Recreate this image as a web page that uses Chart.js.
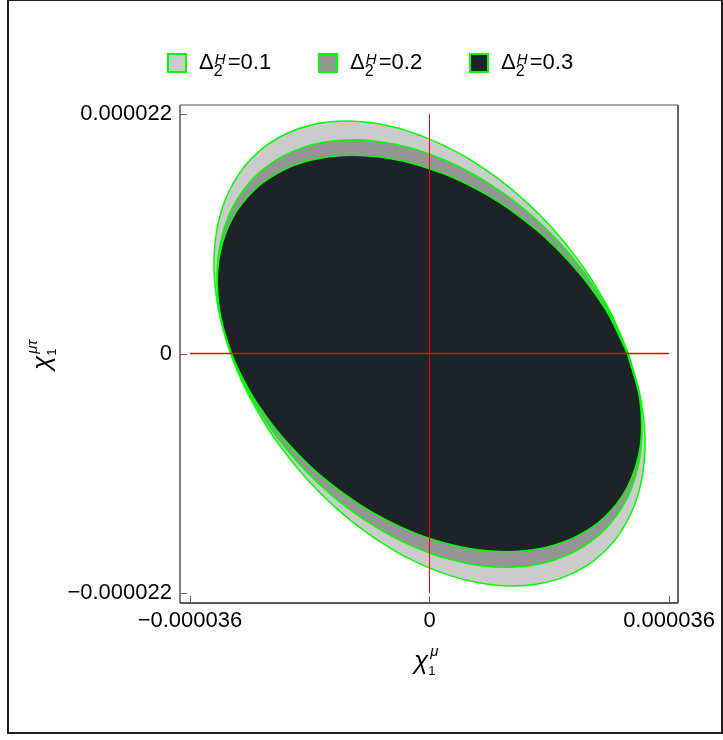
<!DOCTYPE html>
<html>
<head>
<meta charset="utf-8">
<script src="https://cdn.jsdelivr.net/npm/chart.js@4/dist/chart.umd.min.js"></script>
<style>
  html, body { margin: 0; padding: 0; background: #fff; }
  #wrap { position: relative; width: 723px; height: 740px; overflow: hidden;
          font-family: "Liberation Sans", Arial, sans-serif; color: #000; }
  #border { position: absolute; left: 7px; top: -1px; width: 712px; height: 731px;
            border: 2px solid #231f20; }
  canvas { position: absolute; left: 0; top: 0; }
  .leg { position: absolute; top: 49px; height: 26px; font-size: 22px; line-height: 26px; white-space: nowrap; }
  .leg .box { position: absolute; left: 0; top: 4px; width: 16px; height: 16px; border: 2px solid #00ff00; }
  .leg .txt { position: absolute; left: 32px; top: 0; }
  .ss { display: inline-block; position: relative; width: 14px; height: 1px; }
  .leg .sp { position: absolute; left: 1px; top: -17px; font-size: 15px; line-height: 15px; font-style: italic; }
  .leg .sb { position: absolute; left: 0; top: -5px; font-size: 16px; line-height: 16px; }
  .ttl { position: absolute; font-size: 26px; line-height: 30px; white-space: nowrap; }
  .ttl .chi { font-style: italic; }
  .ttl .sp { position: absolute; left: 2px; top: -25px; font-size: 15px; line-height: 15px; font-style: italic; }
  .ttl .sb { position: absolute; left: 0; top: -4px; font-size: 13px; line-height: 13px; }
  #xt { left: 414px; top: 645px; }
  #yt { left: 21px; top: 335px; width: 40px; height: 30px; transform: rotate(-90deg); }
</style>
</head>
<body>
<div id="wrap">
  <canvas id="c" width="723" height="740"></canvas>
  <div id="legend"></div>
  <div class="ttl" id="xt"><span class="chi">χ</span><span class="ss"><span class="sp">μ</span><span class="sb">1</span></span></div>
  <div class="ttl" id="yt"><span class="chi">χ</span><span class="ss"><span class="sp">μτ</span><span class="sb">1</span></span></div>
  <div id="border"></div>
</div>
<script>
// all coordinates below are in units of 1e-6
const U = 1e-6;
const xRange = [-37.5, 37.35];
const yRange = [-22.92, 22.83];
const xTicks = [-36, 0, 36];
const yTicks = [-22, 0, 22];
const xTickLabels = ['\u22120.000036', '0', '0.000036'];
const yTickLabels = ['\u22120.000022', '0', '0.000022'];

const deltaValues = ['0.1', '0.2', '0.3'];
const fillColors = ['#cbcbcb', '#959595', '#1d2327'];
const edgeColor = '#00ff00';

// boundary of each region (closed loops, going round anticlockwise)
const e1X = [29.90, 27.36, 24.58, 21.80, 19.13, 16.57, 14.14, 11.79, 9.49, 7.20, 4.89, 2.50, 0,
  -2.67, -5.58, -8.78, -12.33, -16.25, -20.47, -24.76, -28.61, -31.34, -32.40, -31.76,
  -29.90, -27.36, -24.58, -21.80, -19.13, -16.57, -14.14, -11.79, -9.49, -7.20, -4.89, -2.50, 0,
  2.67, 5.58, 8.78, 12.33, 16.25, 20.47, 24.76, 28.61, 31.34, 32.40, 31.76, 29.90];
const e1Y = [0, 3.60, 6.59, 9.03, 11.05, 12.72, 14.14, 15.36, 16.43, 17.38, 18.24, 19.01, 19.70,
  20.31, 20.83, 21.19, 21.35, 21.17, 20.47, 19.00, 16.52, 12.98, 8.68, 4.18,
  0, -3.60, -6.59, -9.03, -11.05, -12.72, -14.14, -15.36, -16.43, -17.38, -18.24, -19.01, -19.70,
  -20.31, -20.83, -21.19, -21.35, -21.17, -20.47, -19.00, -16.52, -12.98, -8.68, -4.18, 0];

const e2X = [29.80, 27.21, 24.30, 21.41, 18.64, 16.03, 13.58, 11.25, 9.00, 6.79, 4.59, 2.34, 0,
  -2.48, -5.15, -8.08, -11.34, -14.96, -18.94, -23.13, -27.13, -30.27, -31.83, -31.56,
  -29.80, -27.21, -24.30, -21.41, -18.64, -16.03, -13.58, -11.25, -9.00, -6.79, -4.59, -2.34, 0,
  2.48, 5.15, 8.08, 11.34, 14.96, 18.94, 23.13, 27.13, 30.27, 31.83, 31.56, 29.80];
const e2Y = [0, 3.58, 6.51, 8.87, 10.76, 12.30, 13.58, 14.66, 15.59, 16.40, 17.12, 17.76, 18.32,
  18.82, 19.22, 19.51, 19.63, 19.49, 18.94, 17.75, 15.67, 12.54, 8.53, 4.15,
  0, -3.58, -6.51, -8.87, -10.76, -12.30, -13.58, -14.66, -15.59, -16.40, -17.12, -17.76, -18.32,
  -18.82, -19.22, -19.51, -19.63, -19.49, -18.94, -17.75, -15.67, -12.54, -8.53, -4.15, 0];

const e3X = [29.75, 26.94, 23.82, 20.77, 17.93, 15.30, 12.88, 10.61, 8.45, 6.35, 4.27, 2.17, 0,
  -2.29, -4.76, -7.48, -10.51, -13.93, -17.77, -21.95, -26.17, -29.71, -31.69, -31.60,
  -29.75, -26.94, -23.82, -20.77, -17.93, -15.30, -12.88, -10.61, -8.45, -6.35, -4.27, -2.17, 0,
  2.29, 4.76, 7.48, 10.51, 13.93, 17.77, 21.95, 26.17, 29.71, 31.69, 31.60, 29.75];
const e3Y = [0, 3.55, 6.38, 8.60, 10.35, 11.74, 12.88, 13.83, 14.64, 15.33, 15.95, 16.50, 16.98,
  17.41, 17.77, 18.05, 18.20, 18.15, 17.77, 16.85, 15.11, 12.31, 8.49, 4.16,
  0, -3.55, -6.38, -8.60, -10.35, -11.74, -12.88, -13.83, -14.64, -15.33, -15.95, -16.50, -16.98,
  -17.41, -17.77, -18.05, -18.20, -18.15, -17.77, -16.85, -15.11, -12.31, -8.49, -4.16, 0];

// red reference lines
const hLineX = [-36, 36], hLineY = [0, 0];
const vLineX = [0, 0], vLineY = [-22, 22];

function pts(xs, ys) {
  return xs.map((x, i) => ({ x: x * U, y: ys[i] * U }));
}

const regions = [[e1X, e1Y], [e2X, e2Y], [e3X, e3Y]];

// html legend, so the sub/superscripts stack like the original
const legendLeft = [167, 318, 469];
document.getElementById('legend').innerHTML = deltaValues.map((v, i) =>
  `<div class="leg" style="left:${legendLeft[i]}px"><span class="box" style="background:${fillColors[i]}"></span>` +
  `<span class="txt">Δ<span class="ss"><span class="sp">H</span><span class="sb">2</span></span>=${v}</span></div>`
).join('');

const framePlugin = {
  id: 'frame',
  afterDraw(chart) {
    const { ctx, chartArea: a, scales: { x, y } } = chart;
    ctx.save();
    ctx.lineWidth = 1.5;
    const seg = (x1, y1, x2, y2, col) => {
      ctx.strokeStyle = col;
      ctx.beginPath(); ctx.moveTo(x1, y1); ctx.lineTo(x2, y2); ctx.stroke();
    };
    seg(a.left, a.top, a.right, a.top, '#8a8a8a');
    seg(a.left, a.top, a.left, a.bottom, '#555');
    seg(a.left, a.bottom, a.right, a.bottom, '#222');
    seg(a.right, a.top, a.right, a.bottom, '#333');
    ctx.lineWidth = 1;
    xTicks.forEach(v => {
      const px = Math.round(x.getPixelForValue(v * U)) + 0.5;
      seg(px, a.bottom, px, a.bottom - 7, '#666');
    });
    yTicks.forEach(v => {
      const py = Math.round(y.getPixelForValue(v * U)) + 0.5;
      seg(a.left, py, a.left + 7, py, '#666');
    });
    ctx.restore();
  }
};

const tickFont = { family: 'Liberation Sans', size: 22 };

new Chart(document.getElementById('c'), {
  type: 'scatter',
  data: {
    datasets: [
      { label: 'h', data: pts(hLineX, hLineY), showLine: true, borderColor: '#ff0000', borderWidth: 1.5,
        pointRadius: 0, fill: false, order: 0 },
      { label: 'v', data: pts(vLineX, vLineY), showLine: true, borderColor: '#ff0000', borderWidth: 1,
        pointRadius: 0, fill: false, order: 0 },
      ...regions.map(([xs, ys], i) => ({
        label: 'Δ2H=' + deltaValues[i],
        data: pts(xs, ys),
        showLine: true,
        fill: 'shape',
        tension: 0.33,
        backgroundColor: fillColors[i],
        borderColor: edgeColor,
        borderWidth: 1.5,
        pointRadius: 0,
        order: 3 - i
      }))
    ]
  },
  options: {
    responsive: false,
    animation: false,
    layout: { padding: { left: 0, right: 45, top: 105, bottom: 97 } },
    plugins: { legend: { display: false }, tooltip: { enabled: false } },
    scales: {
      x: {
        type: 'linear',
        min: xRange[0] * U,
        max: xRange[1] * U,
        afterBuildTicks: s => { s.ticks = xTicks.map(v => ({ value: v * U })); },
        afterFit: s => { s.height = 40; },
        grid: { display: false, drawTicks: false },
        border: { display: false },
        ticks: { callback: (v, i) => xTickLabels[i], autoSkip: false, maxRotation: 0,
                 padding: 5, color: '#000', font: tickFont }
      },
      y: {
        type: 'linear',
        min: yRange[0] * U,
        max: yRange[1] * U,
        afterBuildTicks: s => { s.ticks = yTicks.map(v => ({ value: v * U })); },
        afterFit: s => { s.width = 180; },
        grid: { display: false, drawTicks: false },
        border: { display: false },
        ticks: { callback: (v, i) => yTickLabels[i], autoSkip: false, padding: 8,
                 color: '#000', font: tickFont }
      }
    }
  },
  plugins: [framePlugin]
});
</script>
</body>
</html>
